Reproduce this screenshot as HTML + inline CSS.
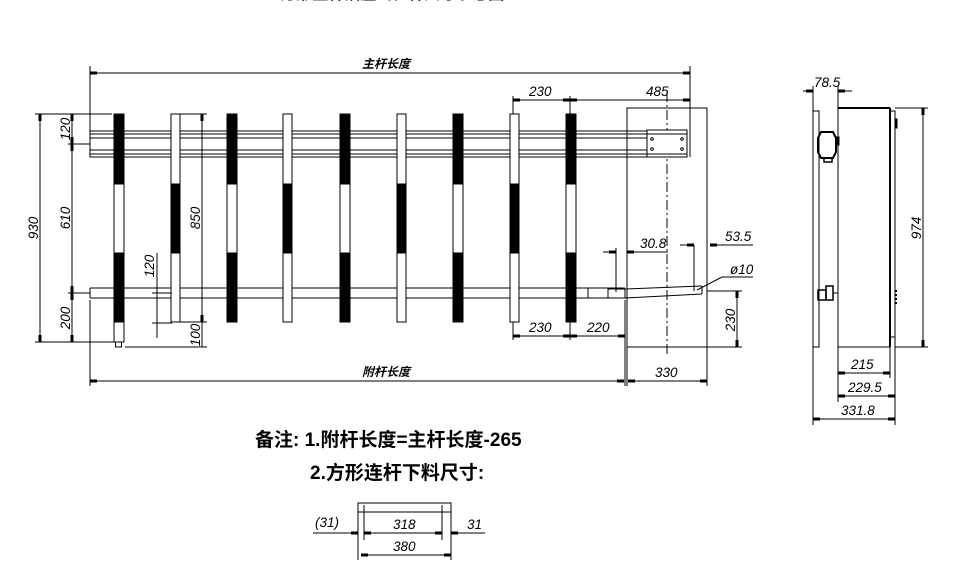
<!DOCTYPE html>
<html><head><meta charset="utf-8"><style>
html,body{margin:0;padding:0;background:#fff;}
svg{display:block;}
text{font-family:"Liberation Sans","Noto Sans CJK SC",sans-serif;font-style:italic;font-size:13.5px;fill:#000;}
.n{font-style:normal;font-weight:bold;font-family:"Liberation Sans","Noto Sans CJK SC",sans-serif;}
</style></head><body>
<svg width="972" height="569" viewBox="0 0 972 569" xmlns="http://www.w3.org/2000/svg">
<defs>
<marker id="a" viewBox="0 0 8 6" refX="8" refY="3" markerWidth="8" markerHeight="6" orient="auto-start-reverse" markerUnits="userSpaceOnUse"><rect x="1" y="1.5" width="7" height="3" fill="#000"/></marker>
</defs>
<rect width="972" height="569" fill="#fff"/>
<text x="258" y="-1" class="n" style="font-size:16px">1.1方形主杆插座式栏杆尺寸示意图</text>
<g stroke="#000" stroke-width="1" fill="none">
<line x1="90" y1="66" x2="90" y2="131"/>
<line x1="690" y1="66" x2="690" y2="131"/>
<line x1="90" y1="73" x2="690" y2="73" marker-start="url(#a)" marker-end="url(#a)"/>
<rect x="90" y="131" width="597" height="26"/>
<line x1="90" y1="134" x2="687" y2="134"/>
<line x1="90" y1="138" x2="687" y2="138"/>
<line x1="90" y1="150" x2="687" y2="150"/>
<line x1="90" y1="154" x2="687" y2="154"/>
<line x1="90" y1="288" x2="625" y2="288"/>
<line x1="90" y1="298" x2="625" y2="298"/>
<line x1="90" y1="288" x2="90" y2="298"/>
<line x1="588" y1="288" x2="588" y2="298"/>
<rect x="608" y="289" width="17" height="9"/>
<line x1="625" y1="289" x2="702" y2="286"/>
<line x1="625" y1="298" x2="702" y2="294"/>
<line x1="702" y1="286" x2="702" y2="294"/>
<rect x="627" y="108" width="80" height="239"/>
<line x1="667" y1="92" x2="667" y2="356" stroke-dasharray="10,3,2,3"/>
<rect x="647" y="130" width="40" height="27" fill="#fff"/>
<line x1="647" y1="134" x2="687" y2="134"/>
<line x1="647" y1="154" x2="687" y2="154"/>
<line x1="690" y1="130" x2="690" y2="157"/>
<circle cx="652" cy="139" r="1.3"/><circle cx="682" cy="139" r="1.3"/>
<circle cx="652" cy="149" r="1.3"/><circle cx="682" cy="149" r="1.3"/>
</g>
<g stroke="#000" stroke-width="1">
<rect x="114" y="322" width="10" height="20" fill="#fff"/>
<rect x="115.5" y="342" width="6" height="5" fill="#fff"/>
<rect x="114" y="114" width="10" height="70" fill="#000"/><rect x="114" y="184" width="10" height="69" fill="#fff"/><rect x="114" y="253" width="10" height="69" fill="#000"/>
<rect x="171" y="114" width="9" height="70" fill="#fff"/><rect x="171" y="184" width="9" height="69" fill="#000"/><rect x="171" y="253" width="9" height="69" fill="#fff"/>
<rect x="227" y="114" width="10" height="70" fill="#000"/><rect x="227" y="184" width="10" height="69" fill="#fff"/><rect x="227" y="253" width="10" height="69" fill="#000"/>
<rect x="283" y="114" width="9" height="70" fill="#fff"/><rect x="283" y="184" width="9" height="69" fill="#000"/><rect x="283" y="253" width="9" height="69" fill="#fff"/>
<rect x="340" y="114" width="10" height="70" fill="#000"/><rect x="340" y="184" width="10" height="69" fill="#fff"/><rect x="340" y="253" width="10" height="69" fill="#000"/>
<rect x="397" y="114" width="9" height="70" fill="#fff"/><rect x="397" y="184" width="9" height="69" fill="#000"/><rect x="397" y="253" width="9" height="69" fill="#fff"/>
<rect x="453" y="114" width="10" height="70" fill="#000"/><rect x="453" y="184" width="10" height="69" fill="#fff"/><rect x="453" y="253" width="10" height="69" fill="#000"/>
<rect x="510" y="114" width="9" height="70" fill="#fff"/><rect x="510" y="184" width="9" height="69" fill="#000"/><rect x="510" y="253" width="9" height="69" fill="#fff"/>
<rect x="566" y="114" width="10" height="70" fill="#000"/><rect x="566" y="184" width="10" height="69" fill="#fff"/><rect x="566" y="253" width="10" height="69" fill="#000"/>
</g>
<g stroke="#000" stroke-width="1" fill="none">
<line x1="35" y1="114" x2="112" y2="114"/>
<line x1="35" y1="342" x2="114" y2="342"/>
<line x1="40" y1="114" x2="40" y2="342" marker-start="url(#a)" marker-end="url(#a)"/>
<line x1="72" y1="114" x2="72" y2="144" marker-start="url(#a)" marker-end="url(#a)"/>
<line x1="72" y1="144" x2="72" y2="293" marker-start="url(#a)" marker-end="url(#a)"/>
<line x1="72" y1="293" x2="72" y2="342" marker-start="url(#a)" marker-end="url(#a)"/>
<line x1="68" y1="144" x2="90" y2="144"/>
<line x1="68" y1="293" x2="90" y2="293"/>
<line x1="180" y1="114" x2="207" y2="114"/>
<line x1="180" y1="322" x2="207" y2="322"/>
<line x1="125" y1="347" x2="207" y2="347"/>
<line x1="202" y1="114" x2="202" y2="322" marker-start="url(#a)" marker-end="url(#a)"/>
<line x1="202" y1="322" x2="202" y2="347"/>
<line x1="157" y1="253" x2="157" y2="338"/>
<line x1="152" y1="293" x2="172" y2="293"/>
<line x1="152" y1="323" x2="172" y2="323"/>
<line x1="513" y1="96" x2="513" y2="114"/>
<line x1="570" y1="96" x2="570" y2="114"/>
<line x1="513" y1="100" x2="570" y2="100" marker-start="url(#a)" marker-end="url(#a)"/>
<line x1="570" y1="100" x2="690" y2="100" marker-start="url(#a)" marker-end="url(#a)"/>
<line x1="90" y1="300" x2="90" y2="386"/>
<line x1="625" y1="300" x2="625" y2="386"/>
<line x1="627" y1="347" x2="627" y2="386"/>
<line x1="707" y1="347" x2="707" y2="386"/>
<line x1="90" y1="381" x2="624" y2="381" marker-start="url(#a)" marker-end="url(#a)"/>
<line x1="628" y1="381" x2="707" y2="381" marker-start="url(#a)" marker-end="url(#a)"/>
<line x1="513" y1="322" x2="513" y2="340"/>
<line x1="570" y1="322" x2="570" y2="340"/>
<line x1="513" y1="336" x2="570" y2="336" marker-start="url(#a)" marker-end="url(#a)"/>
<line x1="570" y1="336" x2="625" y2="336" marker-start="url(#a)" marker-end="url(#a)"/>
<line x1="707" y1="291" x2="742" y2="291"/>
<line x1="707" y1="347" x2="742" y2="347"/>
<line x1="737" y1="291" x2="737" y2="347" marker-start="url(#a)" marker-end="url(#a)"/>
<line x1="616" y1="248" x2="616" y2="292"/>
<line x1="603" y1="252" x2="616" y2="252" marker-end="url(#a)"/>
<line x1="627" y1="252" x2="668" y2="252" marker-start="url(#a)"/>
<line x1="694" y1="245" x2="694" y2="291"/>
<line x1="680" y1="245" x2="694" y2="245" marker-end="url(#a)"/>
<line x1="710" y1="245" x2="753" y2="245" marker-start="url(#a)"/>
<polyline points="697,290 722,277 753,277"/>
<rect x="813" y="111" width="6" height="236"/>
<rect x="838" y="108" width="52" height="239"/>
<line x1="838" y1="108" x2="890" y2="108" stroke-width="2"/>
<line x1="890" y1="108" x2="890" y2="347" stroke-width="2"/>
<rect x="890" y="111" width="5" height="226"/>
<path d="M821,132 h12 l3,6 v14 l-3,6 h-12 l-3,-6 v-14z" stroke-width="2"/>
<rect x="836" y="137" width="3" height="8" fill="#000"/>
<rect x="824" y="158" width="8" height="4" stroke-width="1.5"/>
<rect x="818" y="290" width="8" height="10" stroke-width="1.5"/>
<rect x="826" y="286" width="7" height="14" stroke-width="1.5"/>
<line x1="833" y1="293" x2="838" y2="293"/>
<rect x="895" y="119" width="2" height="9" fill="#000"/>
<line x1="896" y1="290" x2="896" y2="305" stroke-dasharray="2,2" stroke-width="2"/>
<line x1="803" y1="91" x2="813" y2="91" marker-end="url(#a)"/>
<line x1="838" y1="91" x2="852" y2="91" marker-start="url(#a)"/>
<line x1="813" y1="86" x2="813" y2="111"/>
<line x1="838" y1="86" x2="838" y2="108"/>
<line x1="895" y1="108" x2="928" y2="108"/>
<line x1="895" y1="347" x2="928" y2="347"/>
<line x1="923" y1="108" x2="923" y2="347" marker-start="url(#a)" marker-end="url(#a)"/>
<line x1="813" y1="347" x2="813" y2="425"/>
<line x1="838" y1="347" x2="838" y2="402"/>
<line x1="890" y1="347" x2="890" y2="378"/>
<line x1="895" y1="337" x2="895" y2="425"/>
<line x1="838" y1="373" x2="890" y2="373" marker-start="url(#a)" marker-end="url(#a)"/>
<line x1="838" y1="396" x2="895" y2="396" marker-start="url(#a)" marker-end="url(#a)"/>
<line x1="813" y1="419" x2="895" y2="419" marker-start="url(#a)" marker-end="url(#a)"/>
<rect x="358" y="503" width="93" height="9"/>
<line x1="358" y1="503" x2="358" y2="560"/>
<line x1="451" y1="503" x2="451" y2="560"/>
<line x1="364" y1="505" x2="364" y2="540"/>
<line x1="442" y1="505" x2="442" y2="540"/>
<line x1="313" y1="533" x2="358" y2="533" marker-end="url(#a)"/>
<line x1="364" y1="533" x2="442" y2="533" marker-start="url(#a)" marker-end="url(#a)"/>
<line x1="451" y1="533" x2="485" y2="533" marker-start="url(#a)"/>
<line x1="361" y1="555" x2="451" y2="555" marker-start="url(#a)" marker-end="url(#a)"/>
</g>
<text x="362" y="68" class="n" style="font-style:italic;font-size:12px">主杆长度</text>
<text x="362" y="376" class="n" style="font-style:italic;font-size:12px">附杆长度</text>
<text x="529" y="96">230</text>
<text x="646" y="96">485</text>
<text x="529" y="332">230</text>
<text x="587" y="332">220</text>
<text x="655" y="377">330</text>
<text x="640" y="248">30.8</text>
<text x="725" y="241">53.5</text>
<text x="730" y="274">ø10</text>
<text transform="translate(38,228) rotate(-90)" text-anchor="middle">930</text>
<text transform="translate(70,129) rotate(-90)" text-anchor="middle">120</text>
<text transform="translate(70,218) rotate(-90)" text-anchor="middle">610</text>
<text transform="translate(70,318) rotate(-90)" text-anchor="middle">200</text>
<text transform="translate(200,218) rotate(-90)" text-anchor="middle">850</text>
<text transform="translate(200,335) rotate(-90)" text-anchor="middle">100</text>
<text transform="translate(154,266) rotate(-90)" text-anchor="middle">120</text>
<text transform="translate(735,320) rotate(-90)" text-anchor="middle">230</text>
<text transform="translate(921,228) rotate(-90)" text-anchor="middle">974</text>
<text x="814" y="87">78.5</text>
<text x="851" y="369">215</text>
<text x="848" y="392">229.5</text>
<text x="841" y="415">331.8</text>
<text x="315" y="527">(31)</text>
<text x="393" y="529">318</text>
<text x="467" y="529">31</text>
<text x="393" y="551">380</text>
<text x="255" y="446" class="n" style="font-size:19px">备注: 1.附杆长度=主杆长度-265</text>
<text x="310" y="479" class="n" style="font-size:19px">2.方形连杆下料尺寸:</text>
</svg>
</body></html>
